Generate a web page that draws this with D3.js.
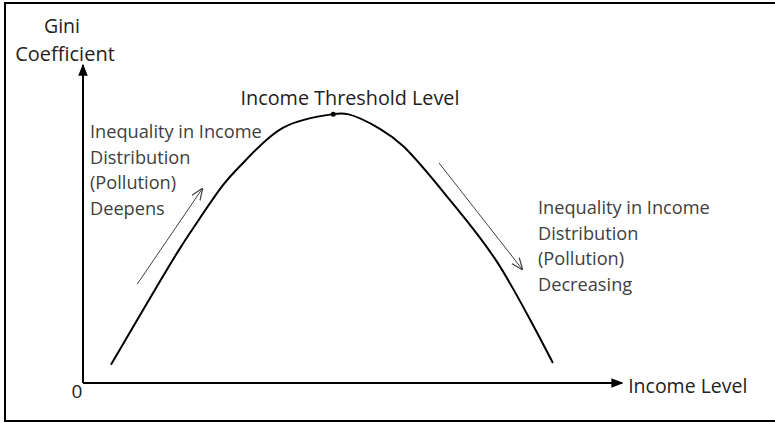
<!DOCTYPE html>
<meta charset="utf-8">
<script src="https://d3js.org/d3.v7.min.js"></script>
<style>
  body { margin: 0; background: #fff; }
  text { font-family: "Open Sans", Lato, sans-serif; }
</style>
<div id="chart"></div>
<script>

// income level (0-100) and gini coefficient (0-1)
var incomeLevel = [5.2, 17.5, 20.3, 26.1, 28.9, 37.2, 46.6, 49.3, 55.3, 59.6, 68.3, 77.1, 87.5];
var giniValue   = [0.058, 0.415, 0.489, 0.633, 0.687, 0.815, 0.859, 0.859, 0.812, 0.757, 0.585, 0.387, 0.064];

// threshold (peak) point
var peakIncome = 46.6, peakGini = 0.859;

// annotation arrows: [income, gini] start -> end
var riseArrow = [[10.1, 0.316], [22.3, 0.623]];
var fallArrow = [[66.3, 0.703], [81.9, 0.361]];

var riseLabel = ["Inequality in Income", "Distribution", "(Pollution)", "Deepens"];
var fallLabel = ["Inequality in Income", "Distribution", "(Pollution)", "Decreasing"];

var width = 775, height = 423;

var svg = d3.select("#chart")
  .append("svg")
    .attr("width", width)
    .attr("height", height);

// frame
svg.append("rect")
    .attr("x", 5).attr("y", 3)
    .attr("width", 790).attr("height", 418)
    .attr("fill", "none")
    .attr("stroke", "#000")
    .attr("stroke-width", 2);

var x = d3.scaleLinear().domain([0, 100]).range([83, 620]);
var y = d3.scaleLinear().domain([0, 1]).range([383, 70]);

var defs = svg.append("defs");
defs.append("marker")
    .attr("id", "solid")
    .attr("viewBox", "0 0 10 10")
    .attr("refX", 9).attr("refY", 5)
    .attr("markerUnits", "userSpaceOnUse")
    .attr("markerWidth", 12).attr("markerHeight", 12)
    .attr("orient", "auto")
  .append("path")
    .attr("d", "M0,1 L10,5 L0,9 Z")
    .attr("fill", "#000");

defs.append("marker")
    .attr("id", "open")
    .attr("viewBox", "0 0 10 10")
    .attr("refX", 10).attr("refY", 5)
    .attr("markerUnits", "userSpaceOnUse")
    .attr("markerWidth", 12).attr("markerHeight", 12)
    .attr("orient", "auto")
  .append("path")
    .attr("d", "M0,1 L10,5 L0,9")
    .attr("fill", "none")
    .attr("stroke", "#404040")
    .attr("stroke-width", 1);

// axes (plain arrows, no ticks)
svg.append("line")
    .attr("x1", x(0)).attr("y1", y(0))
    .attr("x2", x(0)).attr("y2", y(1.016))
    .attr("stroke", "#000").attr("stroke-width", 2)
    .attr("marker-end", "url(#solid)");

svg.append("line")
    .attr("x1", x(0)).attr("y1", y(0))
    .attr("x2", x(100.4)).attr("y2", y(0))
    .attr("stroke", "#000").attr("stroke-width", 2)
    .attr("marker-end", "url(#solid)");

svg.append("text")
    .attr("x", x(0) - 6).attr("y", y(0) + 15)
    .attr("text-anchor", "middle")
    .style("font-size", "19px")
    .attr("fill", "#222")
    .text("0");

svg.append("text")
    .attr("x", x(100.4) + 6).attr("y", y(0) + 10)
    .style("font-size", "19.5px")
    .attr("fill", "#222")
    .text("Income Level");

svg.append("text")
    .attr("x", 62).attr("y", 33)
    .attr("text-anchor", "middle")
    .style("font-size", "19.5px")
    .attr("fill", "#222")
    .text("Gini");

svg.append("text")
    .attr("x", 65).attr("y", 61)
    .attr("text-anchor", "middle")
    .style("font-size", "20px")
    .attr("fill", "#222")
    .text("Coefficient");

// the curve
var pts = incomeLevel.map(function(d, i) { return [d, giniValue[i]]; });
svg.append("path")
    .datum(pts)
    .attr("d", d3.line()
      .curve(d3.curveCatmullRom.alpha(0.5))
      .x(function(d) { return x(d[0]); })
      .y(function(d) { return y(d[1]); }))
    .attr("fill", "none")
    .attr("stroke", "#000")
    .attr("stroke-width", 2);

svg.append("circle")
    .attr("cx", x(peakIncome)).attr("cy", y(peakGini))
    .attr("r", 2.5)
    .attr("fill", "#000");

svg.append("text")
    .attr("x", 350).attr("y", 105)
    .attr("text-anchor", "middle")
    .style("font-size", "19.8px")
    .attr("fill", "#222")
    .text("Income Threshold Level");

// annotation arrows
[riseArrow, fallArrow].forEach(function(a) {
  svg.append("line")
      .attr("x1", x(a[0][0])).attr("y1", y(a[0][1]))
      .attr("x2", x(a[1][0])).attr("y2", y(a[1][1]))
      .attr("stroke", "#404040")
      .attr("stroke-width", 1)
      .attr("marker-end", "url(#open)");
});

function label(lines, lx, ly) {
  svg.append("g").selectAll("text")
    .data(lines)
    .enter()
    .append("text")
      .attr("x", lx)
      .attr("y", function(d, i) { return ly + i * 25.5; })
      .style("font-size", "18.2px")
      .attr("fill", "#404040")
      .text(function(d) { return d; });
}
label(riseLabel, 90, 138);
label(fallLabel, 538, 214);

</script>
